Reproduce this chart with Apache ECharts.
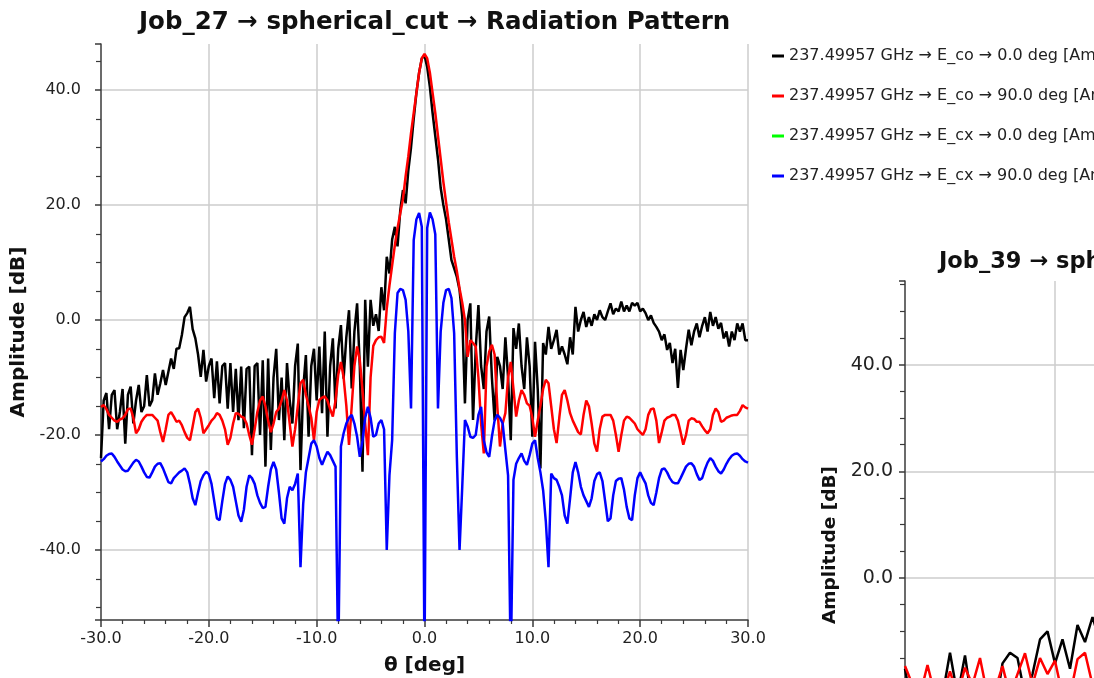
<!DOCTYPE html>
<html><head><meta charset="utf-8">
<script src="https://cdn.jsdelivr.net/npm/echarts@6/dist/echarts.min.js"></script>
<style>html,body{margin:0;padding:0;background:#fff}#c{width:1094px;height:678px}</style>
</head><body><div id="c"></div>
<script>
// ---- Job_27 data: theta grid -30..30 deg, step 0.25 ----
const thetaStart = -30, thetaStep = 0.25;
const seriesNames = [
  '237.49957 GHz \u2192 E_co \u2192 0.0 deg [Amplitude]',
  '237.49957 GHz \u2192 E_co \u2192 90.0 deg [Amplitude]',
  '237.49957 GHz \u2192 E_cx \u2192 0.0 deg [Amplitude]',
  '237.49957 GHz \u2192 E_cx \u2192 90.0 deg [Amplitude]'
];
const seriesColors = ['#000000', '#ff0000', '#00ff00', '#0000ff'];

const coAmp0 = [
-24,-14,-12.7,-19,  -13,-12.2,-19,-16,  -12,-21.5,-13,-11.6,  -18,-14,-11.3,-16,
-15,-9.6,-15,-14,  -9.3,-13,-11,-8.7,  -11.3,-9,-6.7,-8.5,  -5,-4.9,-2.6,0.5,
1.2,2.3,-1.6,-3.2,  -6,-9.9,-5.2,-10.7,  -8,-6.7,-13.6,-7.2,  -14.5,-8,-7.5,-15.4,
-7.5,-16,-8.5,-17.4,  -8.1,-18.8,-8.5,-8.1,  -23.5,-8,-7.5,-20,  -7,-25.5,-6.7,-22.6,
-10,-5,-17.4,-10,  -20.9,-7.5,-14,-18,  -8,-4.1,-26.1,-12,  -6.1,-20.3,-8,-5,
-14,-4.6,-16.2,-2,  -20.3,-8,-3.2,-15.4,  -5,-0.9,-10.2,-3,  1.7,-11.9,-2,2.9,
-8,-26.4,3.5,-8.1,  3.5,-1,1,-1.9,  5.7,1.7,11,8.1,  14,16.2,12.8,19,
22.6,20.3,26,30,  35,39.5,43,45.5,
46,44,40.5,36,  32,28,23,20,  17.5,14,10.4,9,  7.5,5.2,0.6,-14.5,
0,2.9,-17.4,-5,  2.6,-8,-12,-2,  0.6,-10,-17.4,-6.4,  -8,-12,-3,-10,
-20.9,-1.4,-5,-0.6,  -8,-12,-3,-8,  -20.3,-3.8,-12,-25.8,  -4,-6,-1.2,-5,
-3.5,-1.7,-6,-4.6,  -6,-7.7,-3,-6,  2.3,-2,0,1.4,  -1.2,0.5,-1,1,
0,1.7,0.5,0,  1.5,2.9,1,2,  1.5,3.2,1.5,2.5,  1.5,3,2.5,3,
1.5,2,1.2,0,  0.8,-0.5,-1.2,-2,  -3.5,-2.5,-5.2,-4,  -7.5,-5,-11.8,-5.2,
-8.7,-5,-1.7,-4.4,  -2,-0.6,-3,-1,  0.5,-2,1.4,-1,  0.5,-1.5,-0.5,-3.2,
-2,-4.6,-2,-3.5,  -0.6,-2,-0.6,-3.5,
-3.5
];

const coAmp90 = [
-15.1,-14.8,-15.5,-16.5,  -17,-17.5,-17.7,-17.3,  -17.1,-16.5,-15.5,-15.4,  -17,-19.7,-19,-17.7,
-17,-16.5,-16.5,-16.5,  -17,-17.5,-19.5,-21.2,  -19,-16.5,-16,-16.8,  -17.7,-17.5,-18.3,-19.5,
-20.5,-20.9,-18.5,-16,  -15.4,-17,-19.7,-19,  -18.3,-17.5,-17,-16.2,  -16.5,-17.5,-19,-21.7,
-20.5,-18,-16.2,-16.3,  -16.8,-17,-18,-20,  -21.7,-19,-16,-14,  -13.3,-15,-17.5,-19.5,
-18,-16,-15.4,-14,  -12.2,-14,-18,-22,  -19,-15,-11,-10.4,  -13,-14.9,-17,-20.9,
-16,-13.9,-13.5,-13.3,  -14,-15.5,-16.8,-14,  -9.5,-7.3,-10,-14.9,  -21.7,-15,-8,-4.6,
-7,-12.2,-18,-23.5,  -10,-4.5,-3.5,-3,  -2.9,-4,2,6,  9.5,13,16,18.5,
21,25,28.5,32.5,  36,39.5,43,45.5,
46.3,45.5,43,39.5,  36,32,28,24,  20.5,17,14,11,  8.5,5.5,3,0,
-6.4,-3.5,-4,-4.6,  -10,-18,-23.2,-8.1,  -5.5,-4.3,-6,-15,  -22,-18,-16.2,-10,
-7.3,-12,-16.8,-14,  -12.2,-13,-14.5,-14.9,  -17,-20.3,-17.5,-14.9,  -12,-10.4,-11,-15,
-19,-21.4,-17,-13,  -12.2,-14,-16.2,-17.5,  -18.5,-19.5,-19.9,-16.5,  -14,-15,-18,-21.5,
-22.9,-19,-16.8,-16.5,  -16.5,-16.5,-17.5,-20,  -22.9,-20,-17.5,-16.8,  -17,-17.5,-18,-19,
-19.5,-20,-19,-16.5,  -15.5,-15.4,-17.5,-21.4,  -19.5,-17.5,-17,-16.8,  -16.5,-16.5,-17.5,-19.5,
-21.7,-20,-17.5,-17.1,  -17.2,-17.7,-17.7,-18.5,  -19.2,-19.7,-19,-16.5,  -15.4,-16,-17.7,-17.5,
-17,-16.8,-16.6,-16.5,  -16.5,-15.8,-14.8,-15.2,
-15.4
];

// E_cx at 0 deg lies far below the visible range
const cxTheta0 = [-30, 30];
const cxAmp0 = [-300, -300];

const cxAmp90 = [
-24.6,-24.2,-23.6,-23.3,  -23.2,-23.8,-24.6,-25.3,  -26,-26.3,-26.2,-25.5,  -24.8,-24.3,-24.6,-25.5,
-26.5,-27.3,-27.4,-26.5,  -25.5,-25,-24.9,-25.8,  -27,-28.2,-28.4,-27.5,  -27,-26.5,-26.2,-25.8,
-26.5,-28.5,-31,-32.2,  -30,-28,-27,-26.4,  -26.8,-28.5,-31.5,-34.5,  -34.8,-31.5,-28.5,-27.2,
-27.8,-29,-31.5,-34,  -35.1,-33,-29,-27,  -27.5,-28.5,-30.5,-31.8,  -32.7,-32.5,-29,-26,
-24.7,-26,-30,-34.5,  -35.4,-31,-29,-29.6,  -28.5,-26.7,-43,-32,  -26.5,-24,-21.5,-20.9,
-22,-24,-25.2,-24,  -22.9,-23.5,-24.5,-25.5,  -60,-22,-19.7,-18,  -17,-16.5,-18,-20.3,
-23.8,-21,-17,-15.1,  -17,-20.3,-20,-18,  -17.4,-19,-40,-27,  -20.9,-2.3,4.7,5.4,
5.2,3.5,-2,-15.4,  13.9,17.5,18.6,16.2,
-60,16,18.7,17.5,  14.9,-15.4,-2,3,  5.2,5.4,3.8,-2.3,  -23.8,-40,-29,-17.4,
-18.5,-20.3,-20.5,-20,  -16.5,-15.1,-20.9,-23,  -23.8,-20.3,-17.5,-16.5,  -17,-18,-22.6,-27,
-60,-27.8,-25,-24,  -23.2,-24.5,-25.2,-23.5,  -21.5,-20.9,-24,-26.5,  -29.6,-35,-43,-26.7,
-27.5,-27.8,-29,-30.5,  -34,-35.4,-31,-26.5,  -24.7,-26.5,-29,-30.5,  -31.5,-32.5,-31,-28,
-26.8,-26.5,-28,-31.5,  -35,-34.5,-30.5,-28,  -27.6,-27.5,-29.5,-32.5,  -34.5,-34.8,-30.5,-27.5,
-26.5,-27.5,-28.4,-30.5,  -31.8,-32.2,-30,-27.5,  -26,-25.8,-26.5,-27.5,  -28.2,-28.4,-28.4,-27.5,
-26.5,-25.5,-25,-24.9,  -25.5,-26.8,-27.8,-27.5,  -26,-24.8,-24,-24.5,  -25.5,-26.3,-26.7,-26,
-25,-24.2,-23.6,-23.3,  -23.2,-23.6,-24.2,-24.6,
-24.8
];

// ---- Job_39 (only the part inside the window) theta -30..-17, step 0.5 ----
const theta2Start = -30, theta2Step = 0.5;
const job39CoAmp0 = [-17,-25,-25,-25,-25,-22,-14,-22,-14.5,-24,-25,-22,-25,-16,-14,-15,-22,-18,-11.5,-10,-16,-11.5,-17,-8.8,-12,-7.3,-12];
const job39CoAmp90 = [-16.5,-20,-22,-16.3,-22,-22,-17.5,-22,-16.8,-20,-15,-22,-21,-16.5,-22,-18,-14.1,-20,-15,-18,-15.5,-22,-22,-15.2,-14,-20,-18];

const yTickLabels = [-40, -20, 0, 20, 40];
const yTickLabels2 = [0, 20, 40];

function grid(start, step, ys) { return ys.map((y, i) => [+(start + i * step).toFixed(3), y]); }
function pairs(xs, ys) { return ys.map((y, i) => [xs[i], y]); }

const FONT = 'DejaVu Sans';
const axisCol = '#3a3a3a';
function xAxisCfg(gridIndex, labelSize, nameSize, nameGap) {
  return {
    type: 'value', gridIndex, min: -30, max: 30, interval: 10,
    axisLine: { onZero: false, lineStyle: { color: axisCol, width: 1.5 } },
    axisTick: { length: 7, lineStyle: { color: axisCol, width: 1.5 } },
    minorTick: { show: true, splitNumber: 5, length: 4, lineStyle: { color: axisCol, width: 1.2 } },
    axisLabel: { fontFamily: FONT, fontSize: labelSize, color: '#222', margin: 11, formatter: v => v.toFixed(1) },
    splitLine: { show: true, showMinLine: false, showMaxLine: true, lineStyle: { color: '#cccccc', width: 1.5 } },
    name: '\u03b8 [deg]', nameLocation: 'middle', nameGap,
    nameTextStyle: { fontFamily: FONT, fontSize: nameSize, fontWeight: 'bold', color: '#111' }
  };
}
function yAxisCfg(gridIndex, min, max, nameGap, margin, labelSize, nameSize, labels) {
  return {
    type: 'value', gridIndex, min, max, splitNumber: 5,
    axisLine: { show: true, onZero: false, lineStyle: { color: axisCol, width: 1.5 } },
    axisTick: { show: true, length: 6, lineStyle: { color: axisCol, width: 1.5 } },
    minorTick: { show: true, splitNumber: 4, length: 5, lineStyle: { color: axisCol, width: 1.2 } },
    axisLabel: { fontFamily: FONT, fontSize: labelSize, color: '#222', margin, showMinLabel: false, showMaxLabel: false,
      formatter: v => (labels.indexOf(Math.round(v * 100) / 100) >= 0 ? v.toFixed(1) : '') },
    splitLine: { show: true, showMinLine: false, showMaxLine: false, lineStyle: { color: '#cccccc', width: 1.5 } },
    name: 'Amplitude [dB]', nameLocation: 'middle', nameGap,
    nameTextStyle: { fontFamily: FONT, fontSize: nameSize, fontWeight: 'bold', color: '#111' }
  };
}
function lineSeries(name, color, data, xi, yi) {
  return { type: 'line', name, data, xAxisIndex: xi, yAxisIndex: yi, showSymbol: false, symbol: 'none',
    lineStyle: { color, width: 2.5 }, itemStyle: { color }, clip: true, animation: false };
}

const chart = echarts.init(document.getElementById('c'), null, { renderer: 'canvas' });
chart.setOption({
  backgroundColor: '#ffffff',
  animation: false,
  title: [
    { text: 'Job_27 \u2192 spherical_cut \u2192 Radiation Pattern', left: 134, top: 5,
      textStyle: { fontFamily: FONT, fontSize: 24.5, fontWeight: 'bold', color: '#111' } },
    { text: 'Job_39 \u2192 spherical_cut \u2192 Radiation Pattern', left: 934, top: 246,
      textStyle: { fontFamily: FONT, fontSize: 22.5, fontWeight: 'bold', color: '#111' } }
  ],
  legend: {
    orient: 'vertical', left: 767, top: 43, itemGap: 24, itemWidth: 12, itemHeight: 3, icon: 'rect',
    data: seriesNames,
    textStyle: { fontFamily: FONT, fontSize: 16, color: '#222' }
  },
  grid: [
    { left: 101, top: 44, width: 647, height: 576, containLabel: false, outerBoundsMode: 'none' },
    { left: 905, top: 281, width: 900, height: 528, containLabel: false, outerBoundsMode: 'none' }
  ],
  xAxis: [xAxisCfg(0, 16, 20, 36), xAxisCfg(1, 19, 19, 36)],
  yAxis: [yAxisCfg(0, -52.17, 48, 66, 20, 16, 20, yTickLabels), yAxisCfg(1, -43.3, 55.7, 63, 12, 19, 18.5, yTickLabels2)],
  series: [
    lineSeries(seriesNames[0], seriesColors[0], grid(thetaStart, thetaStep, coAmp0), 0, 0),
    lineSeries(seriesNames[1], seriesColors[1], grid(thetaStart, thetaStep, coAmp90), 0, 0),
    lineSeries(seriesNames[2], seriesColors[2], pairs(cxTheta0, cxAmp0), 0, 0),
    lineSeries(seriesNames[3], seriesColors[3], grid(thetaStart, thetaStep, cxAmp90), 0, 0),
    lineSeries(seriesNames[0], seriesColors[0], grid(theta2Start, theta2Step, job39CoAmp0), 1, 1),
    lineSeries(seriesNames[1], seriesColors[1], grid(theta2Start, theta2Step, job39CoAmp90), 1, 1)
  ]
});
</script></body></html>
